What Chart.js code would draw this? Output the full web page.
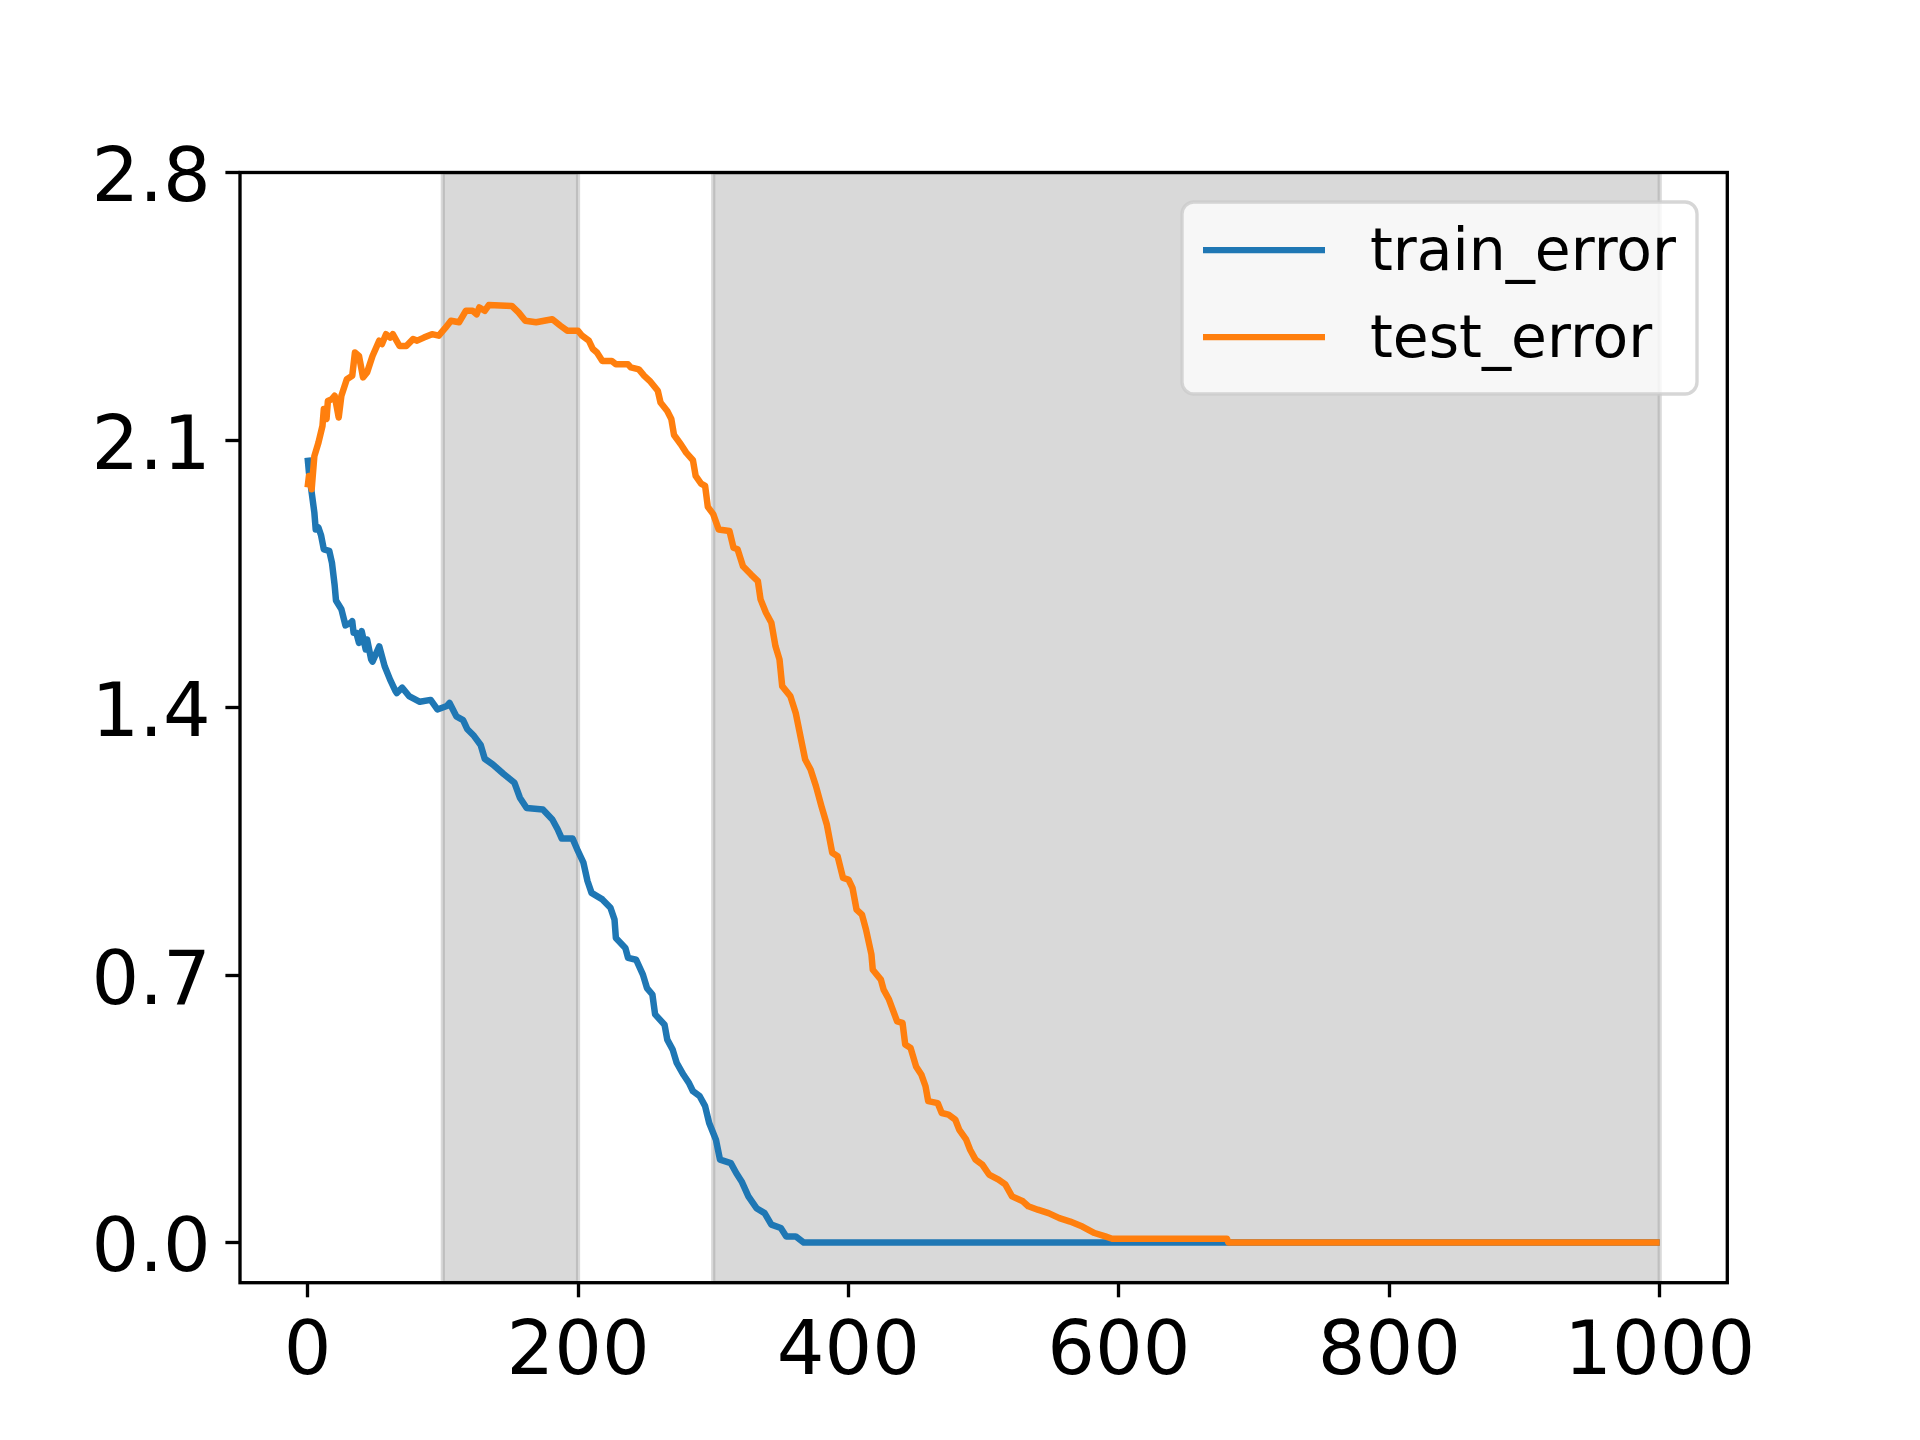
<!DOCTYPE html>
<html>
<head>
<meta charset="utf-8">
<script src="https://cdn.jsdelivr.net/npm/chart.js@4.4.1/dist/chart.umd.min.js"></script>
<style>
  body { margin: 0; background: #fff; }
  #wrap { width: 1920px; height: 1440px; position: relative; }
</style>
</head>
<body>
<div id="wrap"><canvas id="chart_error"></canvas></div>
<script>
// data (epoch, error)
var trainX = [0, 1, 3, 5, 6, 8, 10, 12, 16, 18, 20, 21, 25, 28, 32, 33, 34, 36, 38, 40, 43, 44, 47, 48, 53, 57, 61, 65, 66, 70, 75, 83, 91, 96, 103, 105, 110, 115, 118, 123, 128, 131, 137, 145, 153, 157, 162, 174, 181, 185, 188, 196, 200, 204, 207, 210, 218, 224, 227, 228, 235, 237, 243, 248, 251, 255, 257, 264, 266, 270, 273, 278, 282, 285, 290, 294, 297, 302, 305, 313, 317, 321, 326, 332, 338, 343, 350, 354, 361, 367, 1000];
var trainY = [2.054, 2.015, 1.963, 1.91, 1.866, 1.871, 1.85, 1.814, 1.81, 1.779, 1.72, 1.68, 1.657, 1.615, 1.622, 1.626, 1.596, 1.596, 1.569, 1.60, 1.552, 1.578, 1.526, 1.52, 1.56, 1.508, 1.473, 1.443, 1.438, 1.452, 1.43, 1.415, 1.42, 1.395, 1.404, 1.412, 1.377, 1.367, 1.344, 1.326, 1.302, 1.266, 1.251, 1.226, 1.203, 1.164, 1.137, 1.133, 1.107, 1.081, 1.057, 1.057, 1.024, 0.994, 0.946, 0.915, 0.898, 0.876, 0.845, 0.797, 0.771, 0.745, 0.74, 0.701, 0.666, 0.649, 0.597, 0.57, 0.531, 0.505, 0.47, 0.439, 0.418, 0.396, 0.383, 0.357, 0.313, 0.269, 0.217, 0.208, 0.182, 0.16, 0.121, 0.09, 0.077, 0.047, 0.038, 0.016, 0.016, 0, 0];

var testX = [0, 1, 3, 5, 8, 11, 12, 14, 15, 18, 20, 23, 25, 29, 33, 35, 38, 41, 44, 48, 53, 55, 58, 61, 63, 68, 73, 78, 81, 86, 92, 97, 102, 106, 112, 117, 122, 125, 127, 131, 134, 151, 156, 161, 169, 175, 181, 187, 192, 200, 203, 208, 211, 214, 218, 225, 228, 237, 239, 245, 249, 253, 259, 261, 266, 269, 271, 276, 280, 285, 287, 291, 294, 296, 300, 304, 312, 315, 318, 322, 328, 333, 335, 339, 343, 346, 349, 351, 357, 361, 365, 368, 372, 376, 380, 384, 388, 392, 396, 400, 403, 406, 410, 413, 417, 418, 424, 426, 430, 436, 440, 442, 446, 450, 454, 457, 459, 466, 469, 474, 479, 482, 487, 490, 494, 499, 504, 511, 516, 521, 529, 533, 540, 548, 556, 564, 573, 582, 590, 595, 680, 681, 1000];
var testY = [1.976, 2.006, 1.971, 2.058, 2.093, 2.137, 2.181, 2.155, 2.202, 2.207, 2.216, 2.159, 2.216, 2.259, 2.268, 2.329, 2.32, 2.264, 2.277, 2.32, 2.36, 2.351, 2.377, 2.368, 2.377, 2.346, 2.346, 2.364, 2.36, 2.368, 2.377, 2.373, 2.394, 2.412, 2.408, 2.438, 2.438, 2.429, 2.447, 2.438, 2.453, 2.451, 2.434, 2.412, 2.408, 2.412, 2.416, 2.399, 2.386, 2.386, 2.373, 2.36, 2.338, 2.329, 2.307, 2.307, 2.298, 2.298, 2.29, 2.285, 2.268, 2.255, 2.229, 2.198, 2.176, 2.155, 2.113, 2.089, 2.067, 2.047, 2.006, 1.986, 1.98, 1.925, 1.906, 1.866, 1.862, 1.818, 1.814, 1.77, 1.748, 1.731, 1.683, 1.648, 1.622, 1.561, 1.526, 1.456, 1.43, 1.386, 1.316, 1.264, 1.238, 1.194, 1.142, 1.094, 1.02, 1.011, 0.954, 0.95, 0.928, 0.871, 0.858, 0.819, 0.754, 0.714, 0.688, 0.662, 0.636, 0.579, 0.575, 0.518, 0.509, 0.461, 0.439, 0.409, 0.37, 0.365, 0.339, 0.335, 0.322, 0.295, 0.27, 0.243, 0.217, 0.204, 0.178, 0.165, 0.152, 0.121, 0.108, 0.095, 0.086, 0.077, 0.064, 0.055, 0.042, 0.025, 0.016, 0.01, 0.01, 0, 0];

var seriesNames = ['train_error', 'test_error'];
var xTicks = [0, 200, 400, 600, 800, 1000];
var yTicks = [0, 0.7, 1.4, 2.1, 2.8];
var shadeFrom = [100, 300];
var shadeTo = [200, 1000];

function toPoints(xs, ys) {
    return xs.map(function (x, i) { return { x: x, y: ys[i] }; });
}

Chart.defaults.font.family = 'DejaVu Sans';
Chart.defaults.color = '#000';

// grey bands behind the lines
var shadePlugin = {
    id: 'shade',
    beforeDatasetsDraw: function (chart) {
        var ctx = chart.ctx, a = chart.chartArea, xs = chart.scales.x;
        ctx.save();
        ctx.beginPath();
        ctx.rect(a.left, a.top, a.right - a.left, a.bottom - a.top);
        ctx.clip();
        for (var i = 0; i < shadeFrom.length; i++) {
            var x1 = xs.getPixelForValue(shadeFrom[i]);
            var x2 = xs.getPixelForValue(shadeTo[i]);
            ctx.fillStyle = 'rgba(128,128,128,0.3)';
            ctx.fillRect(x1, a.top, x2 - x1, a.bottom - a.top);
            ctx.strokeStyle = 'rgba(128,128,128,0.3)';
            ctx.lineWidth = 4.2;
            ctx.strokeRect(x1, a.top, x2 - x1, a.bottom - a.top);
        }
        ctx.restore();
    }
};

// axes frame + legend box
var framePlugin = {
    id: 'frame',
    afterDatasetsDraw: function (chart) {
        var ctx = chart.ctx, a = chart.chartArea;
        ctx.save();
        ctx.strokeStyle = '#000';
        ctx.lineWidth = 3.33;
        ctx.strokeRect(a.left, a.top, a.right - a.left, a.bottom - a.top);

        // legend
        var bx = 1182, by = 202, bw = 515, bh = 192, r = 12;
        ctx.beginPath();
        ctx.roundRect(bx, by, bw, bh, r);
        ctx.fillStyle = 'rgba(255,255,255,0.8)';
        ctx.fill();
        ctx.strokeStyle = 'rgba(204,204,204,0.8)';
        ctx.lineWidth = 3.33;
        ctx.stroke();

        ctx.font = '58.3px "DejaVu Sans"';
        ctx.textBaseline = 'alphabetic';
        ctx.textAlign = 'left';
        chart.data.datasets.forEach(function (ds, i) {
            var ly = 250 + i * 87;
            ctx.beginPath();
            ctx.moveTo(1203, ly);
            ctx.lineTo(1325, ly);
            ctx.strokeStyle = ds.borderColor;
            ctx.lineWidth = 6.25;
            ctx.stroke();
            ctx.fillStyle = '#000';
            ctx.fillText(ds.label, 1370, ly + 20);
        });
        ctx.restore();
    }
};

var ctx = document.getElementById('chart_error').getContext('2d');
var chart = new Chart(ctx, {
    type: 'line',
    data: {
        datasets: [{
            label: seriesNames[0],
            data: toPoints(trainX, trainY),
            borderColor: '#1f77b4',
            borderWidth: 6.5,
            pointRadius: 0,
            fill: false,
            tension: 0,
            borderJoinStyle: 'round',
            order: 1
        }, {
            label: seriesNames[1],
            data: toPoints(testX, testY),
            borderColor: '#ff7f0e',
            borderWidth: 6.5,
            pointRadius: 0,
            fill: false,
            tension: 0,
            borderJoinStyle: 'round',
            order: 0
        }]
    },
    options: {
        responsive: true,
        maintainAspectRatio: false,
        devicePixelRatio: 1,
        animation: false,
        layout: { padding: { left: 0, top: 172.5, right: 192.7, bottom: 0 } },
        plugins: { legend: { display: false }, tooltip: { enabled: false } },
        scales: {
            x: {
                type: 'linear',
                min: -50,
                max: 1050,
                afterBuildTicks: function (axis) {
                    axis.ticks = xTicks.map(function (v) { return { value: v }; });
                },
                afterFit: function (axis) { axis.height = 157.3; },
                ticks: {
                    autoSkip: false,
                    maxRotation: 0,
                    padding: 12,
                    font: { size: 75 },
                    color: '#000',
                    callback: function (v) { return String(v); }
                },
                grid: {
                    drawOnChartArea: false,
                    drawTicks: true,
                    tickLength: 14.6,
                    tickWidth: 3.33,
                    tickColor: '#000'
                },
                border: { display: false }
            },
            y: {
                type: 'linear',
                min: -0.105,
                max: 2.8,
                afterBuildTicks: function (axis) {
                    axis.ticks = yTicks.map(function (v) { return { value: v }; });
                },
                afterFit: function (axis) { axis.width = 240; },
                ticks: {
                    autoSkip: false,
                    padding: 14.6,
                    labelOffset: 9,
                    font: { size: 75 },
                    color: '#000',
                    callback: function (v) { return Number(v).toFixed(1); }
                },
                grid: {
                    drawOnChartArea: false,
                    drawTicks: true,
                    tickLength: 14.6,
                    tickWidth: 3.33,
                    tickColor: '#000'
                },
                border: { display: false }
            }
        }
    },
    plugins: [shadePlugin, framePlugin]
});
</script>
</body>
</html>
